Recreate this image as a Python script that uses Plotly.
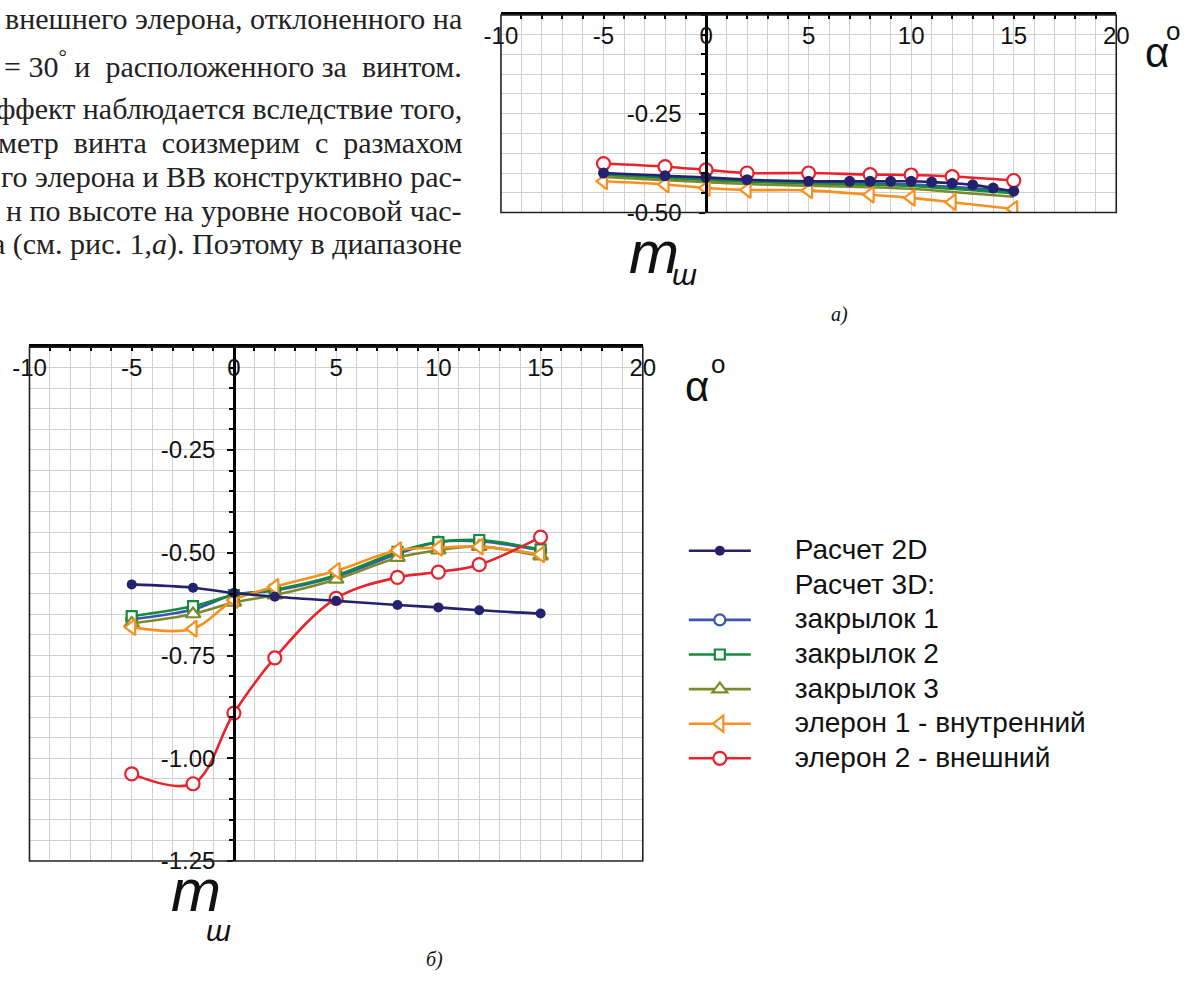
import plotly.graph_objects as go

W, H = 1195, 981

# ---------------- data ----------------
# bottom chart (б)
x_main = [-5, -2, 0, 2, 5, 8, 10, 12, 15]
b_2d = [-0.577, -0.585, -0.598, -0.607, -0.617, -0.627, -0.633, -0.640, -0.648]
b_flap1 = [-0.662, -0.638, -0.602, -0.592, -0.558, -0.503, -0.474, -0.472, -0.494]
b_flap2 = [-0.654, -0.630, -0.603, -0.590, -0.555, -0.498, -0.474, -0.469, -0.492]
b_flap3 = [-0.672, -0.649, -0.621, -0.603, -0.565, -0.512, -0.494, -0.485, -0.508]
b_ail1 = [-0.681, -0.685, -0.615, -0.583, -0.544, -0.494, -0.488, -0.485, -0.504]
b_ail2 = [-1.038, -1.062, -0.890, -0.756, -0.611, -0.560, -0.547, -0.529, -0.462]

# top chart (а)
x_2d_top = [-5, -2, 0, 2, 5, 7, 8, 9, 10, 11, 12, 13, 14, 15]
t_2d = [-0.400, -0.407, -0.411, -0.417, -0.421, -0.421, -0.421, -0.421, -0.421,
        -0.423, -0.426, -0.430, -0.438, -0.446]
t_flap1 = [-0.402, -0.409, -0.414, -0.419, -0.423, -0.426, -0.429, -0.435, -0.446]
t_flap2 = [-0.405, -0.413, -0.418, -0.422, -0.427, -0.430, -0.433, -0.440, -0.451]
t_flap3 = [-0.410, -0.418, -0.423, -0.428, -0.432, -0.436, -0.440, -0.448, -0.460]
t_ail1 = [-0.421, -0.429, -0.438, -0.443, -0.444, -0.455, -0.463, -0.474, -0.491]
t_ail2 = [-0.376, -0.384, -0.392, -0.400, -0.400, -0.404, -0.405, -0.409, -0.419]

x_ticks = [-10, -5, 0, 5, 10, 15, 20]
y_ticks_top = [-0.25, -0.50]
y_ticks_bot = [-0.25, -0.50, -0.75, -1.00, -1.25]

names = ["Расчет 2D", "Расчет 3D:", "закрылок 1", "закрылок 2", "закрылок 3",
         "элерон 1 - внутренний", "элерон 2 - внешний"]

NB = "\u00a0"
text_lines = [
    "внешнего элерона, отклоненного на",
    "= 30<sup>°</sup> и" + NB + " расположенного за" + NB + " винтом.",
    "ффект наблюдается вследствие того,",
    "метр" + NB + " винта" + NB + " соизмерим" + NB + " с" + NB + " размахом",
    "го элерона и ВВ конструктивно рас-",
    "н по высоте на уровне носовой час-",
    "а (см. рис. 1,<i>а</i>). Поэтому в диапазоне",
]

# ---------------- styles ----------------
C_NAVY = "#22226e"
C_BLUE = "#3a56b0"
C_GREEN = "#148a3c"
C_OLIVE = "#7d8a2c"
C_ORANGE = "#f7901e"
C_RED = "#e8232b"
GRID = "#d0d0d0"
SANS = "Liberation Sans, Arial, sans-serif"
SERIF = "Liberation Serif, Times New Roman, serif"
LW = 2.6
TICK_FS = 24


def X(p):
    """page pixel (x) -> paper fraction"""
    return ((p - 14.5) / 0.976) / W


def Y(p):
    """page pixel (y, from top) -> paper fraction"""
    return 1 - ((p + 1) / 0.989) / H


fig = go.Figure()


def lg(name):
    return "<span style='font-size:28px'>" + NB * 5 + name + "</span>"


def add(x, y, name, color, symbol, size, xa, ya, show, rank, filled=False, markers=True):
    if filled:
        mk = dict(symbol=symbol, size=size, color=color, line=dict(color=color, width=0))
    else:
        mk = dict(symbol=symbol, size=size, color="white", line=dict(color=color, width=2.2))
    fig.add_trace(go.Scatter(
        x=x, y=y, name=lg(name), xaxis=xa, yaxis=ya,
        mode="lines+markers" if markers else "lines",
        line=dict(color=color, width=LW, shape="spline", smoothing=1.0),
        marker=mk, showlegend=show, legendrank=rank, legendgroup=name,
        hoverinfo="skip"))


# bottom chart traces (draw order: flaps, ailerons, 2D on top)
add(x_main, b_flap1, names[2], C_BLUE, "circle", 11, "x2", "y2", True, 3)
add(x_main, b_flap2, names[3], C_GREEN, "square", 10, "x2", "y2", True, 4)
add(x_main, b_flap3, names[4], C_OLIVE, "triangle-up", 13, "x2", "y2", True, 5)
add(x_main, b_ail1, names[5], C_ORANGE, "triangle-left", 14, "x2", "y2", True, 6)
add(x_main, b_ail2, names[6], C_RED, "circle", 13, "x2", "y2", True, 7)
add(x_main, b_2d, names[0], C_NAVY, "circle", 10, "x2", "y2", True, 1, filled=True)
# legend heading entry
fig.add_trace(go.Scatter(x=[None], y=[None], name=lg(names[1]), mode="lines",
                         line=dict(color="rgba(0,0,0,0)", width=1), xaxis="x2", yaxis="y2",
                         showlegend=True, legendrank=2, legendgroup="h3d", hoverinfo="skip"))

# top chart traces
add(x_main, t_flap1, names[2], C_BLUE, "circle", 11, "x", "y", False, 3, markers=False)
add(x_main, t_flap2, names[3], C_GREEN, "square", 10, "x", "y", False, 4, markers=False)
add(x_main, t_flap3, names[4], C_OLIVE, "triangle-up", 12, "x", "y", False, 5, markers=False)
add(x_main, t_ail1, names[5], C_ORANGE, "triangle-left", 14, "x", "y", False, 6)
add(x_main, t_ail2, names[6], C_RED, "circle", 13, "x", "y", False, 7)
add(x_2d_top, t_2d, names[0], C_NAVY, "circle", 11, "x", "y", False, 1, filled=True)


# ---------------- axes ----------------
def xaxis(domain, anchor):
    return dict(
        domain=domain, range=[-10, 20], side="top", anchor=anchor,
        tickmode="array", tickvals=x_ticks, ticktext=[str(v) for v in x_ticks],
        ticks="inside", ticklen=4, tickwidth=1.5, tickcolor="black",
        ticklabelposition="inside", ticklabeloverflow="allow", ticklabelstandoff=10,
        tickfont=dict(family=SANS, size=TICK_FS, color="#111"),
        showgrid=True, gridcolor=GRID, gridwidth=1,
        minor=dict(dtick=1, tick0=0, ticks="inside", ticklen=4, tickwidth=1.5,
                   tickcolor="black", showgrid=True, gridcolor=GRID, gridwidth=1),
        showline=True, linecolor="black", linewidth=2.5,
        zeroline=False, fixedrange=True,
    )


def yaxis(domain, rng, vals, pos, standoff):
    return dict(
        domain=domain, range=rng, anchor="free", position=pos,
        tickmode="array", tickvals=vals, ticktext=["%.2f" % v for v in vals],
        ticks="outside", ticklen=6, tickwidth=2, tickcolor="black",
        ticklabelstandoff=standoff,
        tickfont=dict(family=SANS, size=TICK_FS, color="#111"),
        showgrid=True, gridcolor=GRID, gridwidth=1,
        minor=dict(dtick=0.05, tick0=0, ticks="outside", ticklen=4, tickwidth=2,
                   tickcolor="black", showgrid=True, gridcolor=GRID, gridwidth=1),
        showline=True, linecolor="black", linewidth=2.5,
        zeroline=False, fixedrange=True,
    )


top_xd = [X(499), X(1115)]
top_yd = [Y(212), Y(14)]
bot_xd = [X(27), X(641)]
bot_yd = [Y(862), Y(347)]

xa1 = xaxis(top_xd, "y")
xa2 = xaxis(bot_xd, "y2")
ya1 = yaxis(top_yd, [-0.5, 0], y_ticks_top, top_xd[0] + (top_xd[1] - top_xd[0]) / 3, 13)
ya2 = yaxis(bot_yd, [-1.25, 0], y_ticks_bot, bot_xd[0] + (bot_xd[1] - bot_xd[0]) / 3, 7)

# ---------------- frames ----------------
shapes = []
for xref, yref in (("x domain", "y domain"), ("x2 domain", "y2 domain")):
    shapes.append(dict(type="rect", xref=xref, yref=yref, x0=0, x1=1, y0=0, y1=1,
                       line=dict(color="#222", width=1.6), layer="above"))

# ---------------- annotations ----------------
ann = []


def txt(x, y, text, size, family=SANS, italic=False, xanchor="center", yanchor="middle",
        color="#111", raw=False, yshift=0):
    t = "<i>%s</i>" % text if italic else text
    ann.append(dict(xref="paper", yref="paper", x=x if raw else X(x),
                    y=y if raw else Y(y), text=t, yshift=yshift,
                    showarrow=False, xanchor=xanchor, yanchor=yanchor,
                    font=dict(family=family, size=size, color=color)))


line_y = [18, 63, 108, 142, 176, 210, 244]
for ty, tl in zip(line_y, text_lines):
    txt(462, ty, tl, 30, family=SERIF, xanchor="right", color="#222")

# axis titles top
txt(1156, 52, "α", 42)
txt(1.0, Y(30), "o", 26, xanchor="right", raw=True)
txt(652, 252, "m", 60, italic=True)
txt(683, 274, "ш", 30, italic=True)
txt(838, 314, "а)", 20, family=SERIF, italic=True)
# axis titles bottom
txt(695, 386, "α", 42)
txt(716, 364, "o", 26)
txt(194, 892, "m", 60, italic=True)
txt(216, 932, "ш", 30, italic=True)
txt(X(432), 0.0, "б)", 20, family=SERIF, italic=True, yanchor="bottom", raw=True, yshift=-5)

fig.update_layout(
    width=W, height=H, autosize=False,
    margin=dict(l=0, r=0, t=0, b=0),
    paper_bgcolor="white", plot_bgcolor="white",
    xaxis=xa1, yaxis=ya1, xaxis2=xa2, yaxis2=ya2,
    shapes=shapes, annotations=ann,
    legend=dict(x=684 / W, xanchor="left", y=1 - 537 / H, yanchor="top",
                traceorder="grouped", tracegroupgap=3,
                font=dict(family=SANS, size=22, color="#111"),
                bgcolor="rgba(0,0,0,0)", itemwidth=62),
    showlegend=True,
)

fig.write_html("out.html")
